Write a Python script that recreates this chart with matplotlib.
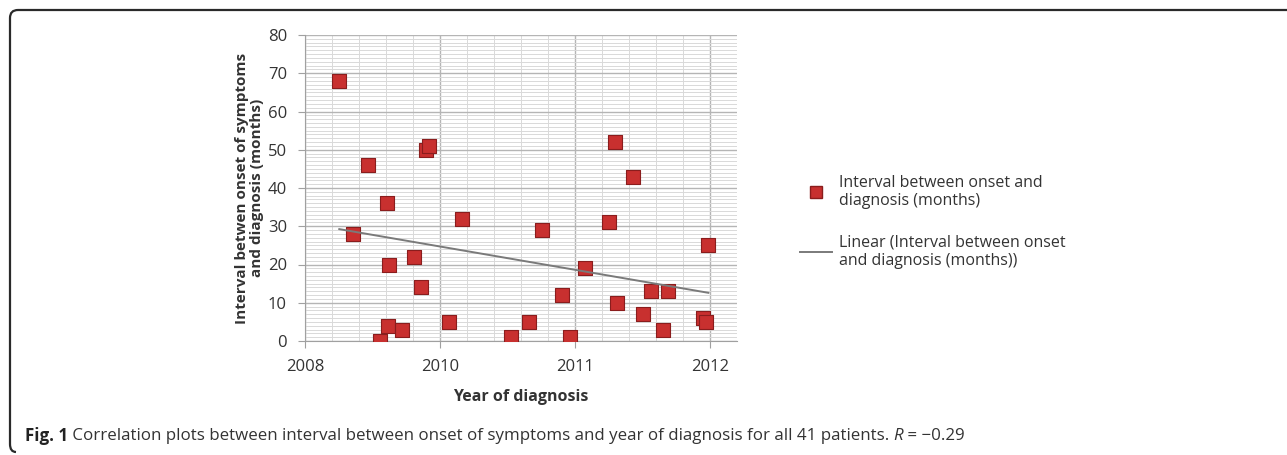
import numpy as np
import matplotlib.pyplot as plt
from matplotlib.lines import Line2D
from matplotlib.path import Path
from matplotlib.patches import PathPatch
from matplotlib.ticker import MultipleLocator

# Position along the (Excel date) x axis, in grid steps, and interval in months
diag_pos = [1.27, 1.77, 2.32, 2.78, 3.02, 3.08, 3.12, 3.6, 4.04, 4.28, 4.48, 4.6,
            5.35, 5.83, 7.63, 8.3, 8.77, 9.5, 9.8, 10.37, 11.26, 11.48, 11.54,
            12.13, 12.5, 12.8, 13.27, 13.43, 14.75, 14.85, 14.94]
interval = [68, 28, 46, 0, 36, 4, 20, 3, 22, 14, 50, 51,
            5, 32, 1, 5, 29, 12, 1, 19, 31, 52, 10,
            43, 7, 13, 3, 13, 6, 5, 25]

xtick_pos = [0, 5, 10, 15]
xtick_labels = ['2008', '2010', '2011', '2012']
yticks = [0, 10, 20, 30, 40, 50, 60, 70, 80]

series_label = 'Interval between onset and\ndiagnosis (months)'
trend_label = 'Linear (Interval between onset\nand diagnosis (months))'
caption_bold = 'Fig. 1'
caption_text = ' Correlation plots between interval between onset of symptoms and year of diagnosis for all 41 patients. '

plt.rcParams['font.family'] = ['Open Sans', 'DejaVu Sans']
txt_col = '#333333'

W, H = 1287, 455
fig = plt.figure(figsize=(W / 100, H / 100), dpi=100)
ax = fig.add_axes([305 / W, 1 - 341 / H, 432 / W, 306 / H])

# grid
ax.set_xlim(0, 16)
ax.set_ylim(0, 80)
ax.xaxis.set_minor_locator(MultipleLocator(1))
ax.yaxis.set_minor_locator(MultipleLocator(1))
ax.set_xticks(xtick_pos)
ax.set_xticklabels(xtick_labels)
ax.set_yticks(yticks)
ax.grid(which='minor', color='#d9d9d9', lw=0.7)
ax.grid(which='major', color='#b5b5b5', lw=1.0)
for s in ['top', 'right']:
    ax.spines[s].set_visible(False)
for s in ['left', 'bottom']:
    ax.spines[s].set_color('#a0a0a0')
ax.tick_params(which='minor', length=0)
ax.tick_params(which='major', length=5, color='#a0a0a0', labelsize=12,
               labelcolor=txt_col, pad=8)
ax.set_axisbelow(True)

# data + linear trend
ax.scatter(diag_pos, interval, marker='s', s=115, color='#c8302f',
           edgecolor='#8a1d1d', linewidth=0.8, zorder=3, label=series_label)
coef = np.polyfit(diag_pos, interval, 1)
xs = np.array([min(diag_pos), max(diag_pos)])
ax.plot(xs, np.polyval(coef, xs), color='#7a7a7a', lw=1.4, zorder=4)

ax.set_xlabel('Year of diagnosis', fontsize=11.5, fontweight='bold', color=txt_col, labelpad=10)
ax.set_ylabel('Interval betwen onset of symptoms\nand diagnosis (months)', fontsize=11,
              fontweight='bold', color=txt_col, labelpad=3, linespacing=1.05)

handles = [Line2D([], [], marker='s', ls='none', color='#c8302f', markeredgecolor='#8a1d1d',
                  markersize=8),
           Line2D([], [], color='#7a7a7a', lw=1.4)]
ax.legend(handles, [series_label, trend_label], loc='upper left',
          bbox_to_anchor=(1.113, 0.59), frameon=False, fontsize=11.5,
          labelcolor=txt_col, handlelength=2.0, handletextpad=0.4,
          labelspacing=1.6)

# frame: top line + left line with rounded corners
def px(x, y):
    return (x / W, 1 - y / H)

verts = [px(1287, 10), px(18, 10), px(10, 10), px(10, 18), px(10, 444), px(10, 452), px(16, 452)]
codes = [Path.MOVETO, Path.LINETO, Path.CURVE3, Path.CURVE3, Path.LINETO, Path.CURVE3, Path.CURVE3]
fig.patches.append(PathPatch(Path(verts, codes), transform=fig.transFigure,
                             fill=False, lw=1.6, edgecolor='#2a2a2a'))

# caption
fs = 12.2
t1 = fig.text(25 / W, 1 - 436 / H, caption_bold, fontsize=fs, fontweight='bold',
              va='center', color='#222222')
fig.canvas.draw()
r = fig.canvas.get_renderer()
bb = t1.get_window_extent(r)
t2 = fig.text(bb.x1 / W, 1 - 436 / H, caption_text, fontsize=fs, va='center', color='#333333')
bb2 = t2.get_window_extent(r)
t3 = fig.text(bb2.x1 / W, 1 - 436 / H, 'R', fontsize=fs, style='italic', va='center', color='#333333')
bb3 = t3.get_window_extent(r)
fig.text(bb3.x1 / W, 1 - 436 / H, ' = \u22120.29', fontsize=fs, va='center', color='#333333')

fig.savefig('out.png', dpi=100)
